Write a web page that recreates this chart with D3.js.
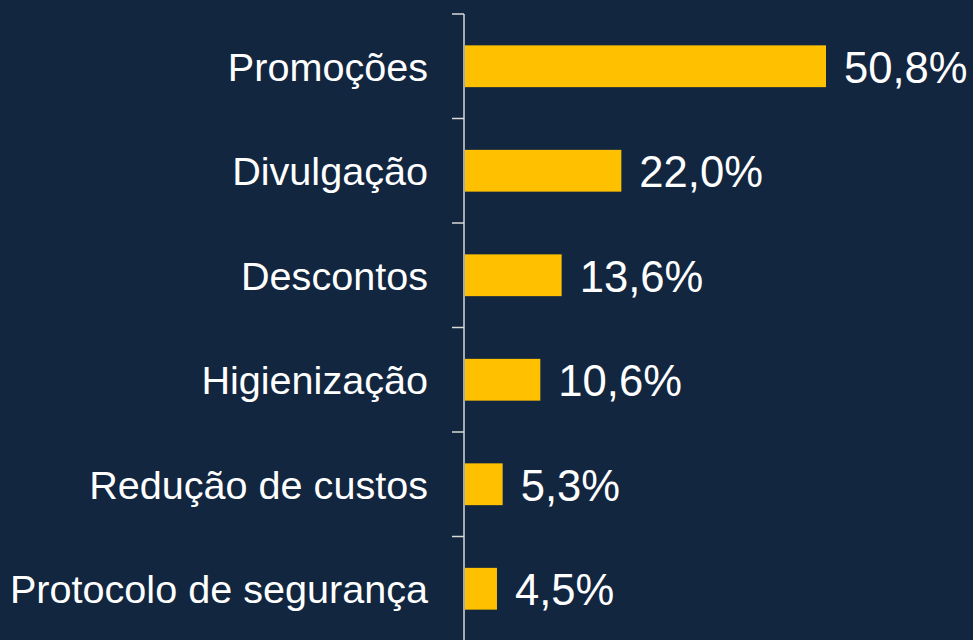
<!DOCTYPE html>
<html>
<head>
<meta charset="utf-8">
<script src="https://cdn.jsdelivr.net/npm/d3@7"></script>
<style>
  html, body { margin: 0; padding: 0; background: #12263f; }
  svg { display: block; }
  text { font-family: "Liberation Sans", Arial, sans-serif; fill: #ffffff; }
</style>
</head>
<body>
<svg id="chart"></svg>
<script>
const categories = ["Promoções", "Divulgação", "Descontos", "Higienização", "Redução de custos", "Protocolo de segurança"];
const values = [50.8, 22.0, 13.6, 10.6, 5.3, 4.5];

const width = 973;
const height = 640;

const svg = d3.select("#chart").attr("width", width).attr("height", height);

svg.append("rect").attr("width", width).attr("height", height).attr("fill", "#12263f");

const axisX = 464;

// bands split evenly, ticks sit between categories
const y = d3.scaleBand()
  .domain(categories)
  .range([14, 641])
  .paddingInner(0.6)
  .paddingOuter(0.3);

const x = d3.scaleLinear()
  .domain([0, d3.max(values)])
  .range([axisX + 1, 826]);

const pt = d3.formatLocale({ decimal: ",", thousands: ".", grouping: [3], currency: ["R$", ""] });
const fmt = pt.format(".1f");

const data = categories.map((c, i) => ({ label: c, value: values[i] }));

// axis line + ticks at band edges
const edges = categories.map(c => y(c) - y.step() * y.paddingInner() / 2);
edges.push(y.range()[1]);

svg.append("line")
  .attr("x1", axisX).attr("x2", axisX)
  .attr("y1", edges[0]).attr("y2", height)
  .attr("stroke", "#d9d9d9").attr("stroke-width", 1.5);

svg.selectAll(".tick")
  .data(edges)
  .enter()
  .append("line")
  .attr("class", "tick")
  .attr("x1", axisX - 12).attr("x2", axisX)
  .attr("y1", d => d).attr("y2", d => d)
  .attr("stroke", "#d9d9d9").attr("stroke-width", 1.5);

const rows = svg.selectAll(".row")
  .data(data)
  .enter()
  .append("g")
  .attr("class", "row");

rows.append("rect")
  .attr("x", x(0))
  .attr("y", d => y(d.label))
  .attr("width", d => x(d.value) - x(0))
  .attr("height", y.bandwidth())
  .attr("fill", "#ffc000");

// category labels
rows.append("text")
  .attr("x", axisX - 36)
  .attr("y", d => y(d.label) + y.bandwidth() / 2)
  .attr("dy", "0.36em")
  .attr("text-anchor", "end")
  .style("font-size", "39.6px")
  .text(d => d.label);

// value labels
rows.append("text")
  .attr("x", d => x(d.value) + 18)
  .attr("y", d => y(d.label) + y.bandwidth() / 2)
  .attr("dy", "0.38em")
  .style("font-size", "43.6px")
  .text(d => fmt(d.value) + "%");
</script>
</body>
</html>
